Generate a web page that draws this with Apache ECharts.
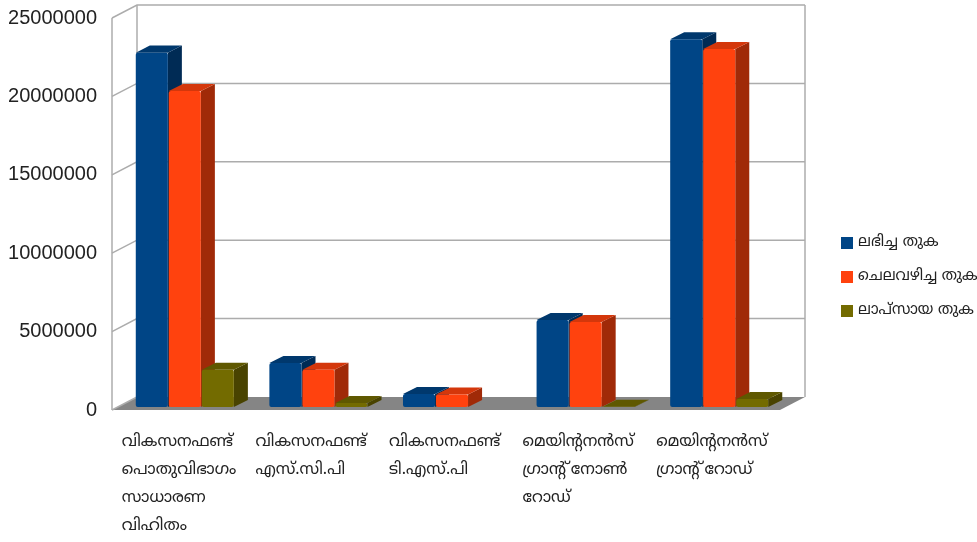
<!DOCTYPE html>
<html>
<head>
<meta charset="utf-8">
<script src="https://cdn.jsdelivr.net/npm/echarts@6/dist/echarts.min.js"></script>
<style>
  html, body { margin: 0; padding: 0; background: #fff; }
  #chart { width: 977px; height: 542px; }
</style>
</head>
<body>
<div id="chart"></div>
<script>
// categories (x axis)
const categories = [
  'വികസനഫണ്ട്\nപൊതുവിഭാഗം\nസാധാരണ\nവിഹിതം',
  'വികസനഫണ്ട്\nഎസ്.സി.പി',
  'വികസനഫണ്ട്\nടി.എസ്.പി',
  'മെയിന്റനൻസ്\nഗ്രാന്റ് നോൺ\nറോഡ്',
  'മെയിന്റനൻസ്\nഗ്രാന്റ് റോഡ്'
];
const seriesNames = ['ലഭിച്ച തുക', 'ചെലവഴിച്ച തുക', 'ലാപ്സായ തുക'];
const received = [22600000, 2800000, 830000, 5550000, 23450000];
const spent = [20150000, 2370000, 800000, 5420000, 22830000];
const lapsed = [2380000, 260000, 0, 20000, 510000];
const yTicks = [0, 5000000, 10000000, 15000000, 20000000, 25000000];

// front / top / side shades
const palette = [
  ['#004586', '#00386d', '#002b55'],
  ['#ff420e', '#d4370b', '#a02a08'],
  ['#736b00', '#5f5800', '#494300']
];

const DX = 25, DY = -13;      // depth of the box
const wallColor = '#acacac';
const font = '"Liberation Sans", "DejaVu Sans", sans-serif';
const mlFont = '"Noto Sans Malayalam", "Noto Sans", "DejaVu Sans", sans-serif';

function wallItem(params, api) {
  const cs = params.coordSys;
  const v = api.value(1);
  const y = api.coord([0, v])[1];
  const x0 = cs.x, x1 = cs.x + cs.width;
  const ls = { stroke: wallColor, lineWidth: 1.5, fill: null };
  const children = [];
  if (v === 0) {
    children.push({
      type: 'polygon',
      shape: { points: [[x0, y], [x1, y], [x1 + DX, y + DY], [x0 + DX, y + DY]] },
      style: { fill: '#858585' }
    });
    children.push({ type: 'line', shape: { x1: x0, y1: y, x2: x0 + DX, y2: y + DY }, style: ls });
  } else {
    children.push({ type: 'polyline', shape: { points: [[x0, y], [x0 + DX, y + DY], [x1 + DX, y + DY]] }, style: ls });
  }
  if (v === yTicks[yTicks.length - 1]) {
    const yb = api.coord([0, 0])[1];
    children.push({ type: 'line', shape: { x1: x0, y1: y, x2: x0, y2: yb }, style: ls });
    children.push({ type: 'line', shape: { x1: x0 + DX, y1: y + DY, x2: x0 + DX, y2: yb + DY }, style: ls });
    children.push({ type: 'line', shape: { x1: x1 + DX, y1: y + DY, x2: x1 + DX, y2: yb + DY }, style: ls });
  }
  return { type: 'group', children: children };
}

function barRenderer(si) {
  const c = palette[si];
  return function (params, api) {
    const idx = api.value(0);
    const v = api.value(1);
    if (!(v > 0)) return;
    const top = api.coord([idx, v]);
    const base = api.coord([idx, 0]);
    const band = api.size([1, 0])[0];
    const w = band * 0.24;
    const cx = top[0] + band * (0.045 + (si - 1) * 0.247);
    const xl = cx - w / 2, xr = cx + w / 2;
    const yt = top[1] - 3, yb = base[1] - 3;
    const dx = band * 0.105, dy = -dx / 2;
    return {
      type: 'group',
      children: [
        { type: 'polygon', shape: { points: [[xr, yt], [xr + dx, yt + dy], [xr + dx, yb + dy], [xr, yb]] },
          style: { fill: c[2] } },
        { type: 'polygon', shape: { points: [[xl, yt], [xr, yt], [xr + dx, yt + dy], [xl + dx, yt + dy]] },
          style: { fill: c[1] } },
        { type: 'rect', shape: { x: xl, y: yt, width: w, height: yb - yt, r: 2 },
          style: { fill: c[0] } }
      ]
    };
  };
}

const dataSets = [received, spent, lapsed];

const chart = echarts.init(document.getElementById('chart'));
const option = {
  animation: false,
  grid: { left: 112, right: 197, top: 18, bottom: 132, containLabel: false, outerBoundsMode: 'none' },
  legend: {
    data: seriesNames,
    orient: 'vertical',
    left: 836,
    top: 229,
    icon: 'rect',
    itemWidth: 12,
    itemHeight: 12,
    itemGap: 16,
    textStyle: { fontFamily: mlFont, fontSize: 15, color: '#222', lineHeight: 18 }
  },
  xAxis: {
    type: 'category',
    data: categories,
    axisLine: { show: false },
    axisTick: { show: false },
    axisLabel: {
      interval: 0,
      align: 'left',
      padding: [0, 0, 0, -57],
      margin: 19,
      lineHeight: 28,
      fontSize: 16,
      fontFamily: mlFont,
      color: '#222'
    }
  },
  yAxis: {
    type: 'value',
    min: 0,
    max: 25000000,
    interval: 5000000,
    axisLine: { show: false },
    axisTick: { show: false },
    splitLine: { show: false },
    axisLabel: {
      fontSize: 20,
      fontFamily: font,
      color: '#222',
      margin: 15,
      formatter: v => String(v)
    }
  },
  series: [
    {
      type: 'custom',
      name: 'walls',
      renderItem: wallItem,
      data: yTicks.map(v => [0, v]),
      encode: { x: 0, y: 1 },
      silent: true,
      z: 1
    }
  ].concat(seriesNames.map((name, si) => ({
    type: 'custom',
    name: name,
    renderItem: barRenderer(si),
    itemStyle: { color: palette[si][0] },
    data: dataSets[si].map((v, i) => [i, v]),
    encode: { x: 0, y: 1 },
    z: 2
  })))
};
chart.setOption(option);
</script>
</body>
</html>
